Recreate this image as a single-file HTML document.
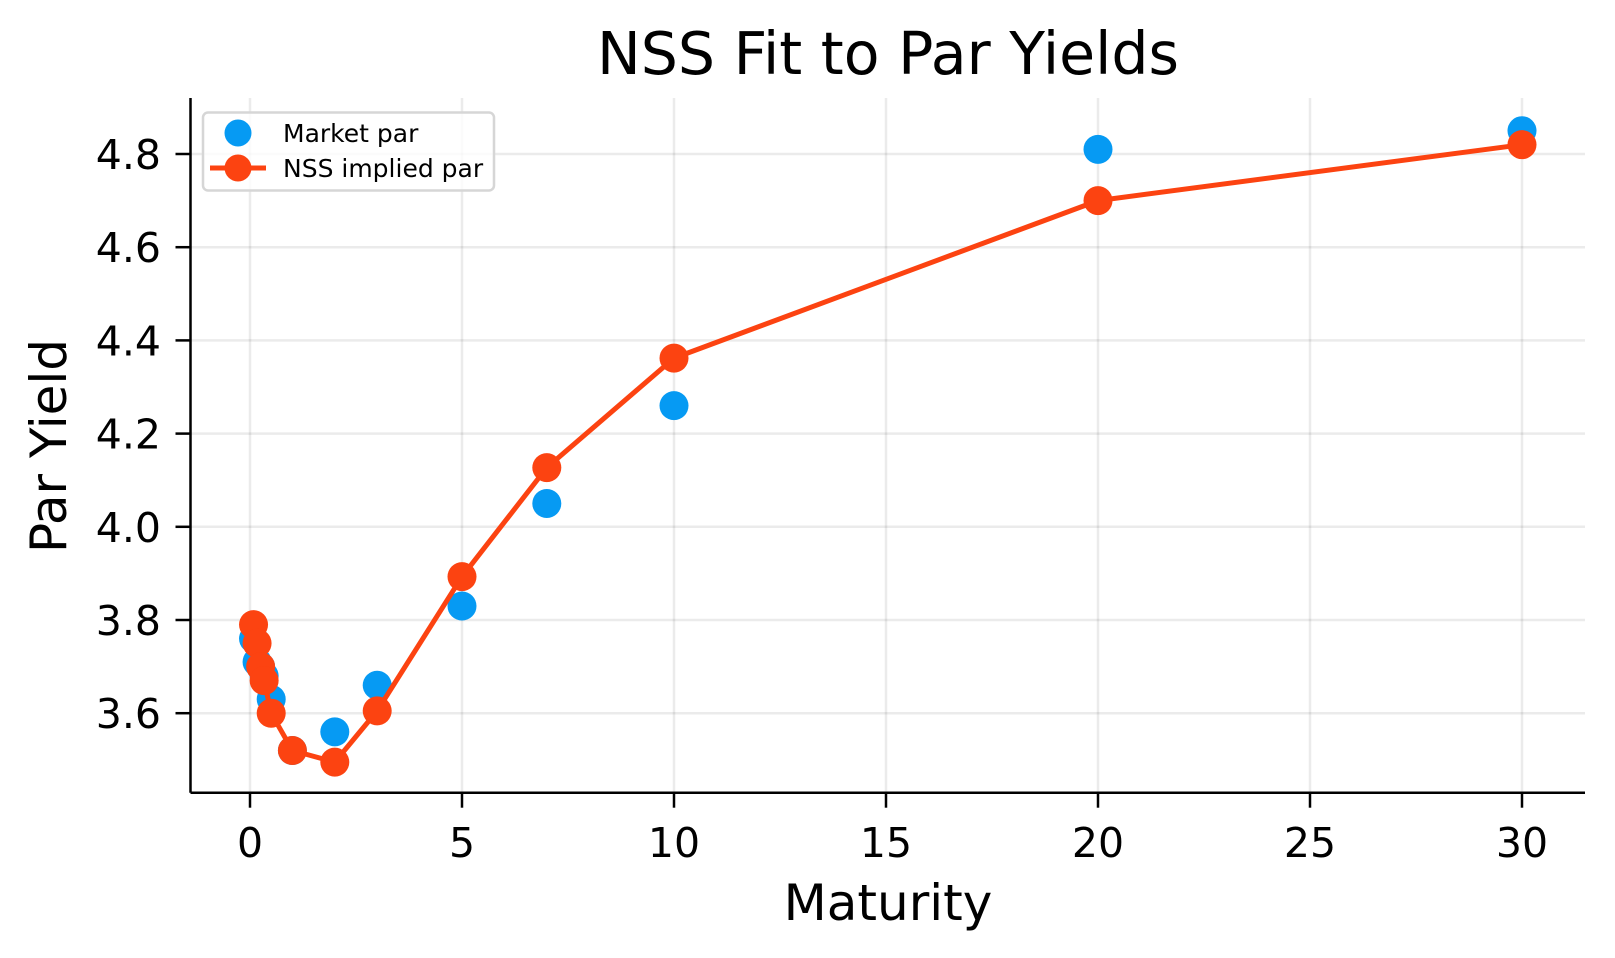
<!DOCTYPE html>
<html><head><meta charset="utf-8"><style>
html,body{margin:0;padding:0;background:#fff;}
svg{display:block;font-family:"DejaVu Sans","Liberation Sans",sans-serif;}
</style></head><body>
<svg id="s" width="1615" height="958" viewBox="0 0 1615 958" xmlns="http://www.w3.org/2000/svg">
<rect width="1615" height="958" fill="#fff"/>
<text x="888" y="74" font-size="58.5" text-anchor="middle" fill="#000">NSS Fit to Par Yields</text>
<text x="888" y="920" font-size="50" text-anchor="middle" fill="#000">Maturity</text>
<text transform="translate(66,446) rotate(-90)" font-size="50" text-anchor="middle" fill="#000">Par Yield</text>
<g id="g"></g>
</svg>
<script>
const g=document.getElementById('g');
const X=m=>250+42.4*m, Y=v=>154+(4.8-v)*466;
let h='';
const L=190.5,B=792.7,T=98,R=1585;
for(let t=0;t<=30;t+=5){h+=`<line x1="${X(t)}" y1="${T}" x2="${X(t)}" y2="${B}" stroke="#000" stroke-opacity="0.08" stroke-width="2.5"/>`;
h+=`<line x1="${X(t)}" y1="${B}" x2="${X(t)}" y2="${B+15}" stroke="#000" stroke-width="2.5"/>`;
h+=`<text x="${X(t)}" y="857" font-size="41" text-anchor="middle">${t}</text>`;}
for(let i=0;i<=6;i++){const v=3.6+0.2*i,y=Y(v);
h+=`<line x1="${L}" y1="${y}" x2="${R}" y2="${y}" stroke="#000" stroke-opacity="0.08" stroke-width="2.5"/>`;
h+=`<line x1="${L-15}" y1="${y}" x2="${L}" y2="${y}" stroke="#000" stroke-width="2.5"/>`;
h+=`<text x="161" y="${y+15}" font-size="41" text-anchor="end">${v.toFixed(1)}</text>`;}
h+=`<line x1="${L}" y1="${T}" x2="${L}" y2="${B}" stroke="#000" stroke-width="2.5"/>`;
h+=`<line x1="${L}" y1="${B}" x2="${R}" y2="${B}" stroke="#000" stroke-width="2.5"/>`;
const m=[1/12,2/12,3/12,4/12,0.5,1,2,3,5,7,10,20,30];
const mk=[3.76,3.71,3.70,3.68,3.63,3.52,3.56,3.66,3.83,4.05,4.26,4.81,4.85];
const ns=[3.79,3.75,3.70,3.67,3.60,3.52,3.495,3.605,3.893,4.127,4.362,4.70,4.82];
const B1='#069AF3',O='#FC4311';
m.forEach((t,i)=>{h+=`<circle cx="${X(t)}" cy="${Y(mk[i])}" r="14.5" fill="${B1}"/>`;});
h+=`<polyline fill="none" stroke="${O}" stroke-width="5" stroke-linejoin="round" points="${m.map((t,i)=>X(t)+','+Y(ns[i])).join(' ')}"/>`;
m.forEach((t,i)=>{h+=`<circle cx="${X(t)}" cy="${Y(ns[i])}" r="14.5" fill="${O}"/>`;});
h+=`<rect x="203" y="112.5" width="291" height="78" rx="5" fill="#fff" fill-opacity="0.8" stroke="#d6d6d6" stroke-width="2.5"/>`;
h+=`<circle cx="238" cy="133" r="13.5" fill="${B1}"/>`;
h+=`<line x1="210" y1="168" x2="266" y2="168" stroke="${O}" stroke-width="5"/><circle cx="238" cy="168" r="13.5" fill="${O}"/>`;
h+=`<text x="283" y="142" font-size="25">Market par</text>`;
h+=`<text x="283" y="177" font-size="25">NSS implied par</text>`;
g.innerHTML=h;
</script>
</body></html>
